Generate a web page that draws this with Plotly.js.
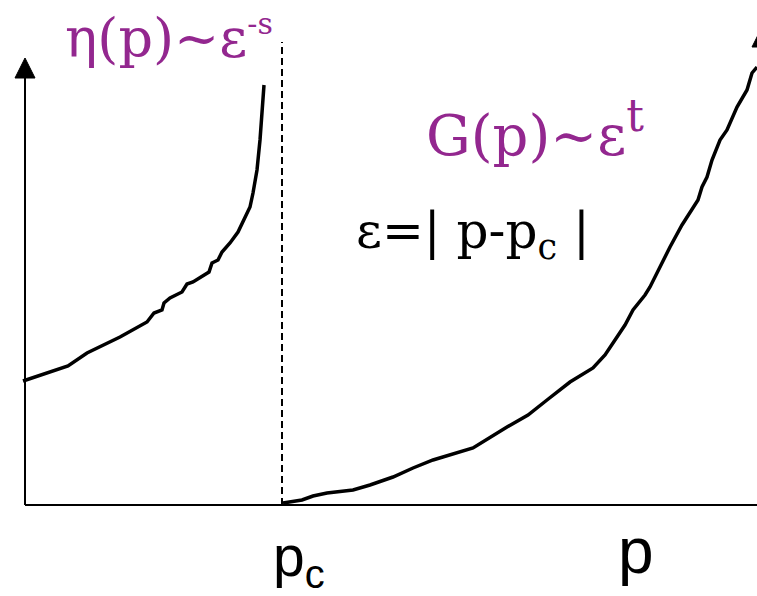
<!DOCTYPE html>
<html>
<head>
<meta charset="utf-8">
<script src="https://cdn.plot.ly/plotly-3.0.1.min.js"></script>
<style>html,body{margin:0;padding:0;background:#fff;}#chart{width:757px;height:596px;}</style>
</head>
<body>
<div id="chart"></div>
<script>
// Schematic values (x: p, y: quantity)
const pc = 257;
const etaX = [-2, 43, 62, 75, 95, 122, 129, 137, 139, 145, 157, 162, 168, 184, 187, 189, 193, 197, 205, 213, 220, 225, 228, 232, 235, 237, 239];
const etaY = [124, 139, 152, 158, 168, 183, 192, 195, 202, 207, 213, 221, 223, 233, 242, 243, 245, 253, 262, 273, 287, 298, 312, 335, 365, 392, 420];
const gX = [258, 277, 288, 302, 328, 345, 368, 388, 408, 435, 448, 482, 503, 522, 545, 568, 580, 588, 600, 608, 620, 625, 637, 645, 657, 673, 677, 682, 687, 695, 702, 712, 722, 727, 732];
const gY = [2, 5, 9, 12, 15, 20, 28, 37, 45, 53, 57, 78, 90, 105, 123, 137, 150, 162, 180, 195, 210, 218, 242, 258, 280, 305, 318, 328, 345, 365, 375, 398, 415, 432, 438];
const xMax = 732, yTop = 427, dashTop = 463;

const purple = '#93278f';
const serif = 'DejaVu Serif, serif';
const sans = 'Liberation Sans, Arial, sans-serif';

const traces = [
  {x: etaX, y: etaY, mode: 'lines', line: {color: '#000', width: 3.5, shape: 'linear'}, hoverinfo: 'skip'},
  {x: gX, y: gY, mode: 'lines', line: {color: '#000', width: 3.5}, hoverinfo: 'skip'},
  {x: [pc, pc], y: [0, dashTop], mode: 'lines', line: {color: '#000', width: 2, dash: '7px,4px'}, hoverinfo: 'skip'}
];

const layout = {
  width: 757, height: 596,
  margin: {l: 0, r: 0, t: 0, b: 0},
  paper_bgcolor: '#fff', plot_bgcolor: '#fff',
  showlegend: false,
  xaxis: {range: [-25, 732], visible: false, fixedrange: true},
  yaxis: {range: [-91, 505], visible: false, fixedrange: true},
  shapes: [
    {type: 'line', x0: 0, x1: xMax, y0: 0, y1: 0, line: {color: '#000', width: 2}},
    {type: 'line', x0: 0, x1: 0, y0: 0, y1: yTop, line: {color: '#000', width: 2}},
    {type: 'path', path: 'M -10 427 L 0 447 L 10 427 Z', fillcolor: '#000', line: {color: '#000', width: 1}},
    {type: 'path', path: 'M 727 458 L 733 470 L 739 458 Z', fillcolor: '#000', line: {color: '#000', width: 1}}
  ],
  annotations: [
    {x: 144, y: 467, xref: 'x', yref: 'y', showarrow: false, text: 'η(p)~ε<sup><span style="font-size:30px">-s</span></sup>', font: {family: serif, size: 54, color: purple}},
    {x: 510, y: 376, xref: 'x', yref: 'y', showarrow: false, text: 'G(p)~ε<sup><span style="font-size:44px">t</span></sup>', font: {family: serif, size: 56, color: purple}},
    {x: 448, y: 271, xref: 'x', yref: 'y', showarrow: false, text: 'ε=| p-p<sub>c</sub> |', font: {family: serif, size: 50, color: '#000'}},
    {x: 274, y: -55, xref: 'x', yref: 'y', showarrow: false, text: 'p<sub>c</sub>', font: {family: sans, size: 57, color: '#000'}},
    {x: 611, y: -46, xref: 'x', yref: 'y', showarrow: false, text: 'p', font: {family: sans, size: 64, color: '#000'}}
  ]
};

Plotly.newPlot('chart', traces, layout, {staticPlot: true, displayModeBar: false});
</script>
</body>
</html>
